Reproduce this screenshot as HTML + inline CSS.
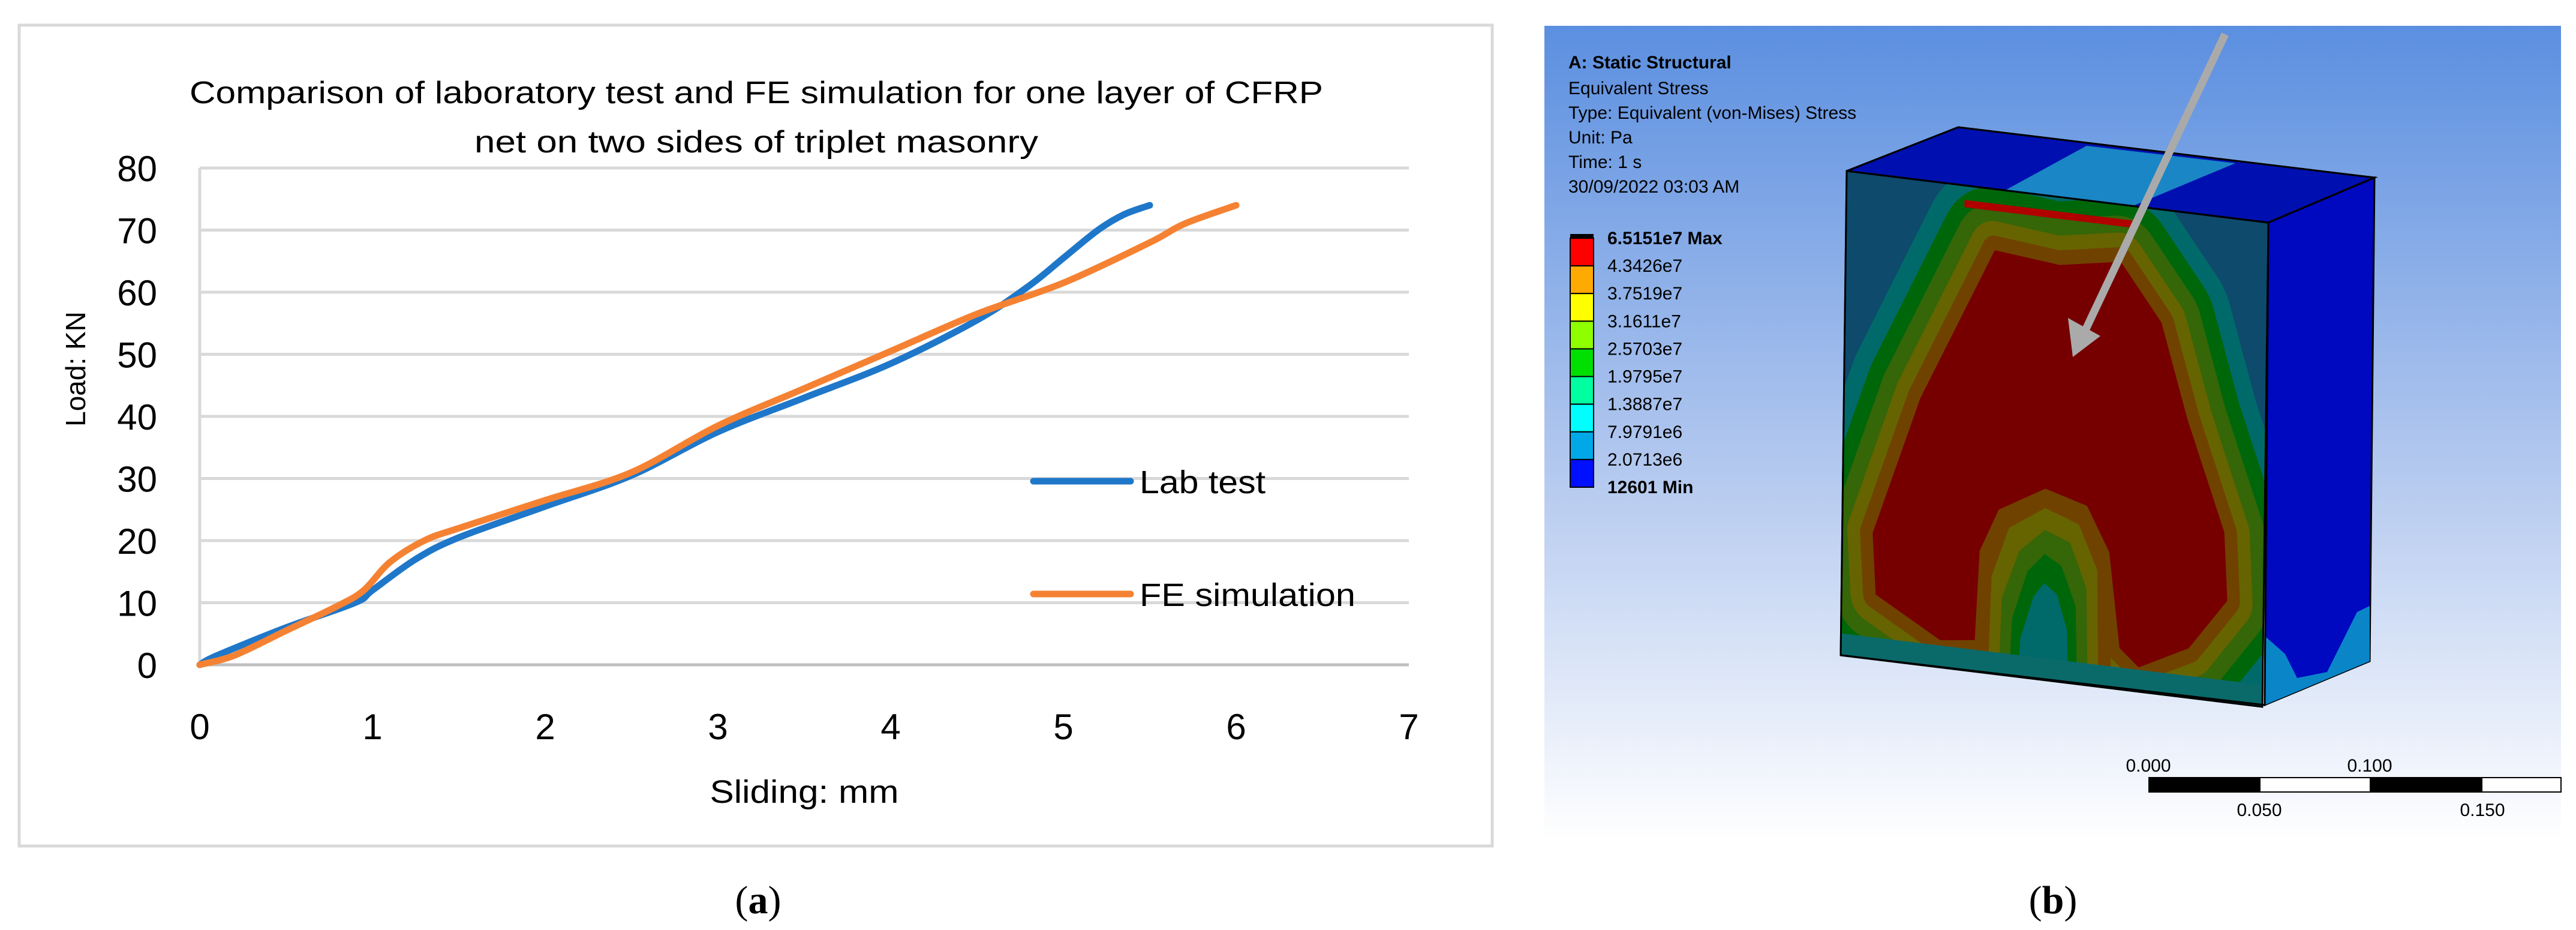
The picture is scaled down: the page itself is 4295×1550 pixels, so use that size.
<!DOCTYPE html>
<html><head><meta charset="utf-8"><style>
html,body{margin:0;padding:0;background:#fff;}
svg{display:block;}
text{font-family:"Liberation Sans",sans-serif;}
</style></head><body>
<svg id="fig" width="4295" height="1550" viewBox="0 0 4295 1550" xmlns="http://www.w3.org/2000/svg">
<defs>
<linearGradient id="bg" x1="0" y1="0" x2="0" y2="1">
<stop offset="0" stop-color="#5b8fe0"/><stop offset="0.55" stop-color="#b4c9ef"/><stop offset="1" stop-color="#ffffff"/>
</linearGradient>
<clipPath id="faceclip"><rect x="0" y="0" width="100" height="100"/></clipPath>
<polygon id="redshape" points="35.3,12.6 18.1,45 7.2,74 8.1,86.6 23.5,94.4 31.7,93.5 32.6,75 37,66 48,60.5 57.9,63 63.3,72 66,91.5 70.6,95 82.4,89.8 91.4,79 90.5,65 81.4,42.5 75,23.3 65.2,11.8 50.7,14" stroke-linejoin="round"/>
</defs>
<rect x="32" y="42" width="2456" height="1368" fill="#fff" stroke="#d9d9d9" stroke-width="5"/>
<text x="1261" y="172" font-size="52" text-anchor="middle" textLength="1890" lengthAdjust="spacingAndGlyphs" fill="#000">Comparison of laboratory test and FE simulation for one layer of CFRP</text>
<text x="1261" y="254" font-size="52" text-anchor="middle" textLength="940" lengthAdjust="spacingAndGlyphs" fill="#000">net on two sides of triplet masonry</text>
<g id="grid"></g>
<g id="yticks"></g>
<g id="xticks"></g>
<text transform="translate(142,615) rotate(-90)" font-size="46" text-anchor="middle" fill="#000">Load: KN</text>
<text x="1341" y="1338" font-size="54" text-anchor="middle" textLength="315" lengthAdjust="spacingAndGlyphs" fill="#000">Sliding: mm</text>
<g id="series"></g>
<g>
<line x1="1723" y1="802" x2="1885" y2="802" stroke="#1f77c9" stroke-width="11" stroke-linecap="round"/>
<text x="1900" y="822" font-size="54" textLength="210" lengthAdjust="spacingAndGlyphs">Lab test</text>
<line x1="1723" y1="990" x2="1885" y2="990" stroke="#f58233" stroke-width="11" stroke-linecap="round"/>
<text x="1900" y="1010" font-size="54" textLength="360" lengthAdjust="spacingAndGlyphs">FE simulation</text>
</g>
<text x="1264" y="1522" font-size="66" text-anchor="middle" style="font-family:'Liberation Serif',serif">(<tspan font-weight="bold">a</tspan>)</text>

<g>
<rect x="2575" y="43" width="1695" height="1357" fill="url(#bg)"/>
<g font-size="30" fill="#000">
<text x="2615" y="114" font-weight="bold">A: Static Structural</text>
<text x="2615" y="157">Equivalent Stress</text>
<text x="2615" y="198">Type: Equivalent (von-Mises) Stress</text>
<text x="2615" y="239">Unit: Pa</text>
<text x="2615" y="280">Time: 1 s</text>
<text x="2615" y="321">30/09/2022 03:03 AM</text>
</g>
<g id="cbar"></g>
<polygon points="3079,285 3265,212 3959,296 3782,371" fill="#0010b0" stroke="#000" stroke-width="3"/>
<polygon points="3338,320 3479,243 3727,272 3552,345" fill="#1a86c6"/>
<polygon points="3782,371 3959,296 3951,1102 3776,1175" fill="#0008c0" stroke="#000" stroke-width="3"/>
<polygon points="3776,1060 3810,1090 3830,1130 3880,1120 3930,1020 3951,1010 3951,1102 3776,1175" fill="#0a86c8"/>
<g transform="matrix(7.03,0.86,-0.1,8.07,3079,285)">
<g clip-path="url(#faceclip)">
<rect x="0" y="0" width="100" height="100" fill="#0e4a6c"/>
<use href="#redshape" fill="#006a6a" stroke="#006a6a" style="stroke-width:34px"/>
<use href="#redshape" fill="#00660a" stroke="#00660a" style="stroke-width:26px"/>
<use href="#redshape" fill="#356608" stroke="#356608" style="stroke-width:19px"/>
<use href="#redshape" fill="#666400" stroke="#666400" style="stroke-width:12px"/>
<use href="#redshape" fill="#704200" stroke="#704200" style="stroke-width:6px"/>
<use href="#redshape" fill="#760000"/>
<polygon points="33,76 37,66 48,60.5 57.9,63 63.3,72 64,96 33,96" fill="#704200"/>
<polygon points="35.5,80 39.5,69.5 48,64.5 56,67 60.5,76 61,97 35,97" fill="#666400"/>
<polygon points="38,84 42,74 48,69 54,71 58,80 58.5,98 37.5,98" fill="#356608"/>
<polygon points="40.5,88 44,78 48,74 52,76 55.5,84 56,99 40,99" fill="#00660a"/>
<polygon points="42.5,92 45.5,83 48,80 51,82 53.5,89 54,100 42,100" fill="#006a6a"/>
<rect x="0" y="95.5" width="100" height="5" fill="#0a6a6a"/>
<rect x="28" y="3" width="40" height="1.5" fill="#b00000"/>
</g>
<rect x="0" y="0" width="100" height="100" fill="none" stroke="#000" stroke-width="0.4"/>
</g>
<polygon points="3079,285 3265,212 3959,296 3782,371 3776,1175 3069,1092" fill="none" stroke="#000" stroke-width="3"/>
<line x1="3710" y1="57" x2="3470" y2="565" stroke="#aaaaaa" stroke-width="13"/>
<polygon points="3456,595 3448,530 3502,560" fill="#aaaaaa"/>
<g>
<rect x="3583" y="1296" width="687" height="24" fill="#fff" stroke="#000" stroke-width="2"/>
<rect x="3583" y="1296" width="186" height="24" fill="#000"/>
<rect x="3951" y="1296" width="188" height="24" fill="#000"/>
<g font-size="30" text-anchor="middle">
<text x="3582" y="1286">0.000</text>
<text x="3951" y="1286">0.100</text>
<text x="3767" y="1360">0.050</text>
<text x="4139" y="1360">0.150</text>
</g>
</g>
<text x="3423" y="1522" font-size="66" text-anchor="middle" style="font-family:'Liberation Serif',serif">(<tspan font-weight="bold">b</tspan>)</text>
</g>
</svg>
<script>
const xTicks=[0,1,2,3,4,5,6,7];
const yTicks=[0,10,20,30,40,50,60,70,80];
const labX=[0,0.1,0.5,0.9,1,1.25,1.5,2,2.5,3,3.5,4,4.5,4.8,5,5.2,5.35,5.5];
const labY=[0,1.5,6,10,12,17,20.5,25.5,30.5,37.5,43,48.5,55.5,61,65.5,70,72.5,74];
const feX=[0,0.2,0.5,0.8,0.95,1.1,1.3,1.5,2,2.5,3,3.5,4,4.5,5,5.5,5.7,6];
const feY=[0,1.5,5.5,9.5,12,16.5,20,22,26.5,31,38.5,44.5,50.5,56.5,61.5,68,71,74];
const cbarColors=["#ff0000","#ffaa00","#ffff00","#8fff00","#00e000","#00ffa0","#00ffff","#00a8e8","#0010ff"];
const cbarLabels=["6.5151e7 Max","4.3426e7","3.7519e7","3.1611e7","2.5703e7","1.9795e7","1.3887e7","7.9791e6","2.0713e6","12601 Min"];
const NS="http://www.w3.org/2000/svg";
const X0=333,X1=2349,Y0=1108,Y1=280;
function sx(v){return X0+(v-0)/(7-0)*(X1-X0);}
function sy(v){return Y0-(v-0)/(80-0)*(Y0-Y1);}
function mk(tag,attrs,parent){const e=document.createElementNS(NS,tag);for(const k in attrs)e.setAttribute(k,attrs[k]);parent.appendChild(e);return e;}
const grid=document.getElementById('grid'),yt=document.getElementById('yticks'),xt=document.getElementById('xticks');
yTicks.forEach(v=>{
  const l=mk('line',{x1:X0,x2:X1,y1:sy(v),y2:sy(v),stroke:v===0?'#bfbfbf':'#d9d9d9','stroke-width':5},grid);
  
  
  const t=mk('text',{x:262,y:sy(v)+22,'font-size':60,'text-anchor':'end'},yt);
  t.textContent=v;
  
  
});
mk('line',{x1:X0,x2:X0,y1:Y1,y2:Y0,stroke:'#d9d9d9','stroke-width':5},grid);
xTicks.forEach(v=>{
  const t=mk('text',{x:sx(v),y:1232,'font-size':60,'text-anchor':'middle'},xt);
  t.textContent=v;
  
  
});
function smooth(xs,ys){
  const p=xs.map((x,i)=>[sx(x),sy(ys[i])]);
  let d='M'+p[0][0]+','+p[0][1];
  for(let i=0;i<p.length-1;i++){
    const a=p[i-1]||p[i],b=p[i],c=p[i+1],e=p[i+2]||c;
    const c1=[b[0]+(c[0]-a[0])/6,b[1]+(c[1]-a[1])/6],c2=[c[0]-(e[0]-b[0])/6,c[1]-(e[1]-b[1])/6];
    d+=' C'+c1[0]+','+c1[1]+' '+c2[0]+','+c2[1]+' '+c[0]+','+c[1];
  }
  return d;
}
const sg=document.getElementById('series');
const s1=mk('path',{d:smooth(labX,labY),fill:'none',stroke:'#1f77c9','stroke-width':11,'stroke-linecap':'round','stroke-linejoin':'round'},sg);


const s2=mk('path',{d:smooth(feX,feY),fill:'none',stroke:'#f58233','stroke-width':11,'stroke-linecap':'round','stroke-linejoin':'round'},sg);


const cb=document.getElementById('cbar');
const bx=2618,btop=397,bh=(812-397)/cbarColors.length;
mk('rect',{x:bx,y:390,width:39,height:8,fill:'#000'},cb);
cbarColors.forEach((c,i)=>{
  const r=mk('rect',{x:bx,y:btop+i*bh,width:39,height:bh,fill:c,stroke:'#000','stroke-width':2},cb);
  
  
});
cbarLabels.forEach((s,i)=>{
  const t=mk('text',{x:2680,y:btop+i*bh+10,'font-size':30},cb);
  if(i===0||i===cbarLabels.length-1)t.setAttribute('font-weight','bold');
  t.textContent=s;
  
  
});
</script>
</body></html>
